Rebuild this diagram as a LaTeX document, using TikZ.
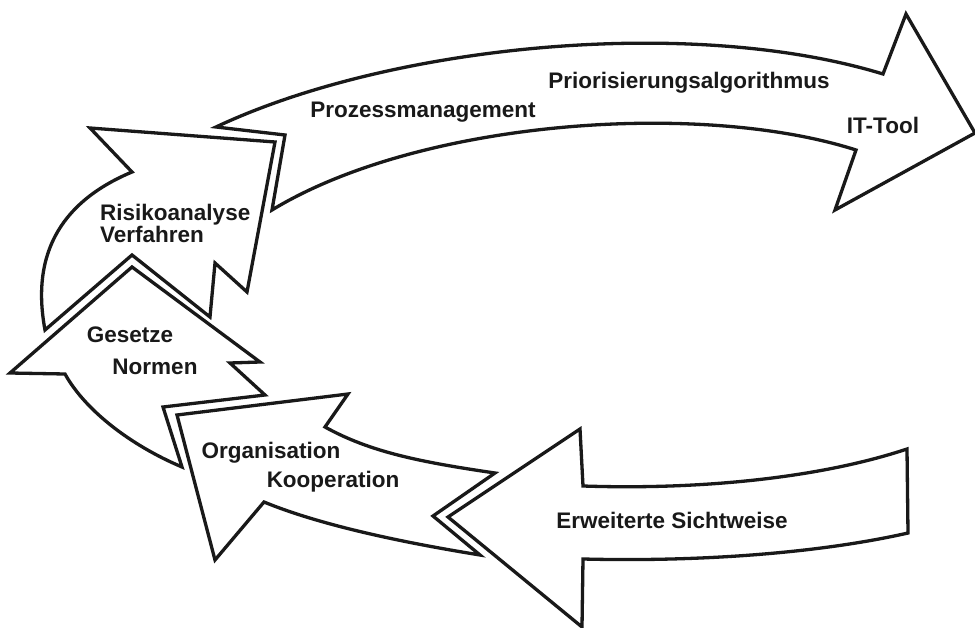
\documentclass[tikz,border=0pt]{standalone}
\usepackage{fontspec}
\setmainfont{Liberation Sans}
\begin{document}
\begin{tikzpicture}[x=1pt,y=-1pt]
        \tikzstyle{every node}=[inner sep=0pt, text height=16pt, text depth=4pt,
          font=\fontsize{22.5}{27}\selectfont\bfseries, text=black!90]
        \tikzstyle{bigarrow}=[draw=black!90, fill=white, line width=3.3pt, line join=miter]
        \useasboundingbox (0,0) rectangle (975,628);

        % top arrow
        \draw [bigarrow] (216,127) .. controls (390,45) and (690,15) .. (883,74)
          -- (906,14) -- (975,133) -- (835,210) -- (856,150)
          .. controls (700,100) and (420,120) .. (272,210) -- (285,135) -- cycle;

        % left arrows
        \draw [bigarrow] (90,128) -- (275,142) -- (247,292) -- (215,263)
          -- (210,317) -- (132,255) -- (45,330)
          .. controls (30,250) and (65,200) .. (132,172) -- cycle;
        \draw [bigarrow] (132,267) -- (260,362) -- (230,363) -- (265,395)
          -- (163,407) -- (182,467)
          .. controls (130,445) and (85,410) .. (65,374) -- (10,373) -- cycle;

        % bottom arrows
        \draw [bigarrow] (177,415) -- (348,394) -- (325,427)
          .. controls (370,452) and (420,462) .. (495,473) -- (433,516) -- (480,555)
          .. controls (400,542) and (320,525) .. (264,502) -- (215,560) -- cycle;
        \draw [bigarrow] (448,517) -- (580,429) -- (583,486)
          .. controls (700,490) and (820,478) .. (907,449) -- (908,533)
          .. controls (820,553) and (700,562) .. (583,559) -- (582,627) -- cycle;

        \path (423,112) node (prozess) {Prozessmanagement};
        \path (689,83) node (prio) {Priorisierungsalgorithmus};
        \path (883,128) node (ittool) {IT-Tool};
        \path (100,215) node [anchor=west] (risiko) {Risikoanalyse};
        \path (100,237) node [anchor=west] (verfahren) {Verfahren};
        \path (130,337) node (gesetze) {Gesetze};
        \path (155,368) node (normen) {Normen};
        \path (271,452) node (organisation) {Organisation};
        \path (333,481) node (kooperation) {Kooperation};
        \path (672,522) node (sichtweise) {Erweiterte Sichtweise};
      \end{tikzpicture}
\end{document}
